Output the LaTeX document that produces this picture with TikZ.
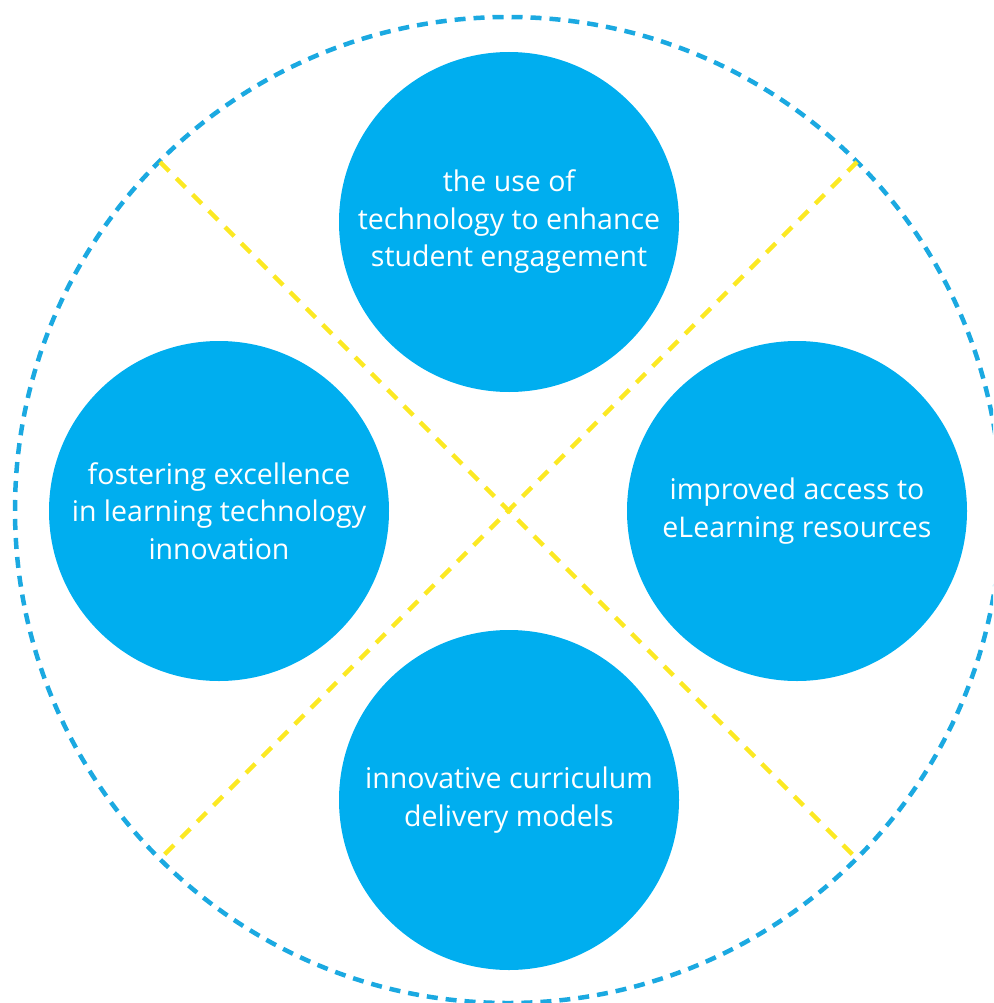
\documentclass[tikz,border=0pt]{standalone}
\usepackage{fontspec}
\setmainfont{Open Sans}
\definecolor{topicblue}{HTML}{00AEEF}
\definecolor{ringblue}{HTML}{1BA9E1}
\definecolor{axisyellow}{HTML}{FCE923}
\begin{document}
\begin{tikzpicture}[x=1pt,y=-1pt,
  topic/.style={circle, fill=topicblue, minimum size=340pt, inner sep=0pt,
    text=white, align=center, font=\fontsize{28.5}{37.5}\selectfont},
  ring/.style={draw=ringblue, line width=4.5pt, dash pattern=on 11pt off 8pt},
  axis/.style={draw=axisyellow, line width=4.5pt, dash pattern=on 13pt off 10pt}]
  \useasboundingbox (0,0) rectangle (993,1003);
  \clip (0,0) rectangle (993,1003);
  % outer dashed ring
  \coordinate (c) at (508,510);
  \draw[ring] (c) circle[radius=493pt];
  % diagonal axes meeting at the centre
  \coordinate (nw) at (160,162);
  \coordinate (se) at (857,859);
  \coordinate (ne) at (857,162);
  \coordinate (sw) at (160,859);
  \draw[axis] (nw) -- (se);
  \draw[axis] (ne) -- (sw);
  % four topic circles
  \node[topic] (top) at (509,222) {the use of\\technology to enhance\\student engagement};
  \node[topic] (left) at (219,511) {fostering excellence\\in learning technology\\innovation};
  \node[topic] (right) at (797,511) {improved access to\\eLearning resources};
  \node[topic] (bottom) at (509,800) {innovative curriculum\\delivery models};
\end{tikzpicture}
\end{document}
